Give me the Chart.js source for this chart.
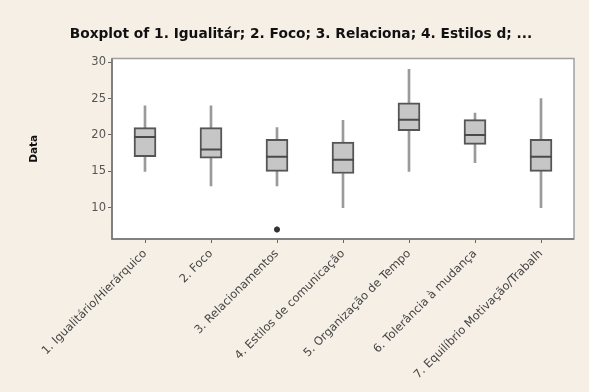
<!DOCTYPE html>
<html>
<head>
<meta charset="utf-8">
<script src="https://cdn.jsdelivr.net/npm/chart.js@4/dist/chart.umd.min.js"></script>
<style>
  html, body { margin: 0; padding: 0; background: #f5efe6; }
  #wrap { width: 589px; height: 392px; }
</style>
</head>
<body>
<div id="wrap"><canvas id="c"></canvas></div>
<script>
const categories = [
  '1. Igualitário/Hierárquico',
  '2. Foco',
  '3. Relacionamentos',
  '4. Estilos de comunicação',
  '5. Organização de Tempo',
  '6. Tolerância à mudança',
  '7. Equilíbrio Motivação/Trabalh'
];
const minVals = [15, 13, 13, 10, 15, 16.2, 10];
const q1Vals  = [17, 16.8, 15, 14.7, 20.6, 18.7, 15];
const medVals = [19.7, 18, 17, 16.6, 22.1, 20, 17];
const q3Vals  = [21, 21, 19.4, 19, 24.4, 22.1, 19.4];
const maxVals = [24, 24, 21, 22, 29, 23, 25];
const outliers = [null, null, 7, null, null, null, null];
const yTicks = [10, 15, 20, 25, 30];

const plotFrame = {
  id: 'plotFrame',
  beforeDraw(chart) {
    const { ctx, chartArea: a } = chart;
    ctx.save();
    ctx.fillStyle = '#f5efe6';
    ctx.fillRect(0, 0, chart.width, chart.height);
    ctx.fillStyle = '#ffffff';
    ctx.fillRect(a.left, a.top, a.right - a.left, a.bottom - a.top);
    ctx.restore();
  },
  afterDraw(chart) {
    const { ctx, chartArea: a } = chart;
    ctx.save();
    ctx.lineWidth = 1.5;
    ctx.strokeStyle = '#a0a0a0';
    ctx.strokeRect(a.left, a.top, a.right - a.left, a.bottom - a.top);
    // left and bottom edges a bit darker, like the original
    ctx.strokeStyle = '#707070';
    ctx.beginPath();
    ctx.moveTo(a.left, a.top);
    ctx.lineTo(a.left, a.bottom);
    ctx.lineTo(a.right, a.bottom);
    ctx.stroke();
    ctx.restore();
  }
};

new Chart(document.getElementById('c'), {
  type: 'bar',
  data: {
    labels: categories,
    datasets: [
      {
        type: 'line',
        label: 'Median',
        data: medVals,
        showLine: false,
        pointStyle: 'line',
        pointRadius: 11,
        pointBorderColor: '#4a4a4a',
        pointBorderWidth: 2,
        order: 0
      },
      {
        type: 'line',
        label: 'Outlier',
        data: outliers,
        showLine: false,
        pointStyle: 'star',
        pointRadius: 3,
        pointBorderColor: '#333',
        pointBorderWidth: 2,
        order: 0
      },
      {
        label: 'Box',
        data: q1Vals.map((q, i) => [q, q3Vals[i]]),
        backgroundColor: '#c6c6c6',
        borderColor: '#555555',
        borderWidth: 2,
        borderSkipped: false,
        barThickness: 22,
        grouped: false,
        order: 1
      },
      {
        label: 'Lower whisker',
        data: minVals.map((m, i) => [m, q1Vals[i]]),
        backgroundColor: '#9a9a9a',
        barThickness: 2,
        grouped: false,
        order: 2
      },
      {
        label: 'Upper whisker',
        data: q3Vals.map((q, i) => [q, maxVals[i]]),
        backgroundColor: '#9a9a9a',
        barThickness: 2,
        grouped: false,
        order: 2
      }
    ]
  },
  plugins: [plotFrame],
  options: {
    responsive: true,
    maintainAspectRatio: false,
    animation: false,
    layout: { padding: { left: 28, right: 15, top: 0, bottom: 0 } },
    plugins: {
      legend: { display: false },
      tooltip: { enabled: false },
      title: {
        display: true,
        text: 'Boxplot of 1. Igualitár; 2. Foco; 3. Relaciona; 4. Estilos d; ...',
        color: '#111',
        font: { family: 'DejaVu Sans', size: 13.75, weight: 'bold' },
        padding: { top: 26, bottom: 16 }
      }
    },
    scales: {
      x: {
        grid: { offset: false, drawOnChartArea: false, drawTicks: true, tickLength: 4, color: '#666' },
        border: { display: false },
        ticks: {
          color: '#444',
          font: { family: 'DejaVu Sans', size: 11.5 },
          minRotation: 45,
          maxRotation: 45,
          autoSkip: false,
          padding: 4
        },
        afterFit(scale) {
          scale.height = 153;
          scale.paddingLeft = 0;
          scale.paddingRight = 0;
        }
      },
      y: {
        min: 5.7,
        max: 30.5,
        grid: { drawOnChartArea: false, drawTicks: true, tickLength: 4, color: '#666' },
        border: { display: false },
        ticks: {
          color: '#555',
          font: { family: 'DejaVu Sans', size: 11.5 },
          padding: 2
        },
        afterBuildTicks(scale) {
          scale.ticks = yTicks.map(v => ({ value: v }));
        },
        title: {
          display: true,
          text: 'Data',
          color: '#111',
          font: { family: 'DejaVu Sans', size: 10.5, weight: 'bold' },
          padding: { top: 0, bottom: 0 }
        },
        afterFit(scale) {
          scale.width = 84;
        }
      }
    }
  }
});
</script>
</body>
</html>
